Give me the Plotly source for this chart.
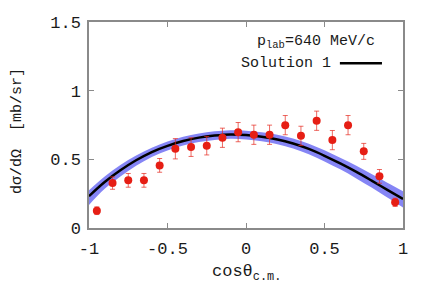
import plotly.graph_objects as go

# measured data
cos_theta = [-0.95, -0.85, -0.75, -0.65, -0.55, -0.45, -0.35, -0.25, -0.15, -0.05,
             0.05, 0.15, 0.25, 0.35, 0.45, 0.55, 0.65, 0.75, 0.85, 0.95]
dsigma = [0.126, 0.327, 0.347, 0.347, 0.456, 0.577, 0.589, 0.599, 0.657, 0.698,
          0.679, 0.679, 0.749, 0.671, 0.781, 0.640, 0.749, 0.558, 0.376, 0.187]
dsigma_err = [0.028, 0.045, 0.05, 0.05, 0.05, 0.074, 0.068, 0.067, 0.07, 0.07,
              0.07, 0.07, 0.07, 0.07, 0.07, 0.07, 0.07, 0.058, 0.05, 0.03]

# Solution 1 curve and uncertainty band
curve_x = [-1.0, -0.9, -0.8, -0.7, -0.6, -0.5, -0.4, -0.3, -0.2, -0.1, 0.0,
           0.1, 0.2, 0.3, 0.4, 0.5, 0.6, 0.7, 0.8, 0.9, 1.0]
curve_y = [0.232, 0.335, 0.42, 0.493, 0.553, 0.598, 0.633, 0.658, 0.673, 0.681, 0.677,
           0.665, 0.645, 0.615, 0.576, 0.526, 0.47, 0.41, 0.345, 0.278, 0.212]
band_lo = [0.168, 0.285, 0.375, 0.453, 0.517, 0.564, 0.600, 0.626, 0.641, 0.649, 0.645,
           0.632, 0.61, 0.578, 0.537, 0.485, 0.427, 0.363, 0.294, 0.222, 0.150]
band_hi = [0.275, 0.375, 0.458, 0.528, 0.585, 0.630, 0.664, 0.689, 0.704, 0.712, 0.709,
           0.697, 0.679, 0.651, 0.614, 0.566, 0.512, 0.455, 0.393, 0.330, 0.268]

x_ticks = [-1, -0.5, 0, 0.5, 1]
y_ticks = [0, 0.5, 1, 1.5]
x_tick_text = ["-1", "-0.5", "0", "0.5", "1"]
y_tick_text = ["0", "0.5", "1", "1.5"]

FONT = "Liberation Mono"
TXT = "#1a1a1a"

# the page body adds an 8 px offset; the figure is sized so the plot area lands
# at 89..403 x 22..228 in the window
PW, PH = 314, 206

fig = go.Figure()
fig.add_trace(go.Scatter(x=curve_x, y=band_hi, mode="lines", line=dict(width=0, shape="spline"),
                         showlegend=False, hoverinfo="skip"))
fig.add_trace(go.Scatter(x=curve_x, y=band_lo, mode="lines", line=dict(width=0, shape="spline"),
                         fill="tonexty", fillcolor="#8585f5", showlegend=False, hoverinfo="skip"))
fig.add_trace(go.Scatter(x=curve_x, y=curve_y, mode="lines",
                         line=dict(color="black", width=2.5, shape="spline"),
                         name="Solution 1", showlegend=False))
fig.add_trace(go.Scatter(x=cos_theta, y=dsigma, mode="markers",
                         marker=dict(color="#e61e14", size=8),
                         error_y=dict(type="data", array=dsigma_err, color="rgba(230,40,30,0.7)",
                                      thickness=1, width=2.5),
                         showlegend=False))

axis_common = dict(showline=True, linecolor="#8a8a8a", linewidth=1.5, mirror="allticks",
                   ticks="inside", ticklen=5, tickcolor="#8a8a8a", tickwidth=1,
                   showgrid=False, zeroline=False, automargin=False,
                   tickfont=dict(family=FONT, size=17, color=TXT))

fig.update_layout(
    width=428, height=297,
    margin=dict(l=81, r=33, t=14, b=77),
    paper_bgcolor="white", plot_bgcolor="white",
    xaxis=dict(range=[-1, 1], tickvals=x_ticks, ticktext=x_tick_text, ticklabelstandoff=4,
               **axis_common),
    yaxis=dict(range=[0, 1.5], tickvals=y_ticks, ticktext=y_tick_text, ticklabelstandoff=3,
               **axis_common),
    annotations=[
        dict(x=0.5, y=(228 - 273) / PH, xref="paper", yref="paper", xanchor="center", yanchor="middle",
             text="cosθ<sub>c.m.</sub>", showarrow=False,
             font=dict(family=FONT, size=17, color=TXT)),
        dict(x=(17 - 89) / PW, y=(228 - 131) / PH, xref="paper", yref="paper",
             xanchor="center", yanchor="middle", textangle=-90,
             text="dσ/dΩ  [mb/sr]", showarrow=False,
             font=dict(family=FONT, size=15, color=TXT)),
        dict(x=0.917, y=0.904, xref="paper", yref="paper", xanchor="right", yanchor="middle",
             text="p<sub>lab</sub>=640 MeV/c", showarrow=False,
             font=dict(family=FONT, size=15, color=TXT)),
        dict(x=0.777, y=0.800, xref="paper", yref="paper", xanchor="right", yanchor="middle",
             text="Solution 1", showarrow=False,
             font=dict(family=FONT, size=15, color=TXT)),
    ],
    shapes=[dict(type="line", xref="paper", yref="paper", x0=0.799, x1=0.933, y0=0.800, y1=0.800,
                 line=dict(color="black", width=2.5))],
)

fig.write_html("out.html")
